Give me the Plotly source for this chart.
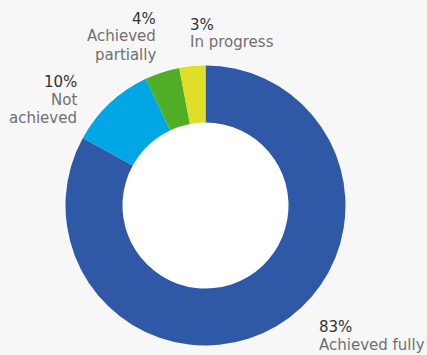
import plotly.graph_objects as go

labels = ["Achieved fully", "Not achieved", "Achieved partially", "In progress"]
values = [83, 10, 4, 3]
colors = ["#2F59A6", "#00A7E4", "#51AE27", "#DFDF27"]
label_lines = [["Achieved fully"], ["Not", "achieved"], ["Achieved", "partially"], ["In progress"]]

W, H = 427, 355
cx, cy, R = 205.5, 205.5, 140
hole = 0.593

fig = go.Figure(go.Pie(
    labels=labels, values=values, sort=False, direction="clockwise", rotation=0,
    hole=hole, marker=dict(colors=colors, line=dict(width=0)),
    textinfo="none", hoverinfo="label+percent", showlegend=False,
    domain=dict(x=[(cx - R) / W, (cx + R) / W], y=[(H - cy - R) / H, (H - cy + R) / H]),
))

ri = R * hole
fig.add_shape(type="circle", xref="paper", yref="paper", layer="below",
              x0=(cx - ri) / W, x1=(cx + ri) / W,
              y0=(H - cy - ri) / H, y1=(H - cy + ri) / H,
              fillcolor="white", line=dict(width=0))

# label placement: (x_px, first baseline px, anchor)
placements = [(318, 332, "left"), (78, 87, "right"), (157, 24, "right"), (189, 30, "left")]
step = 18
for lines, v, (x, yb, anc) in zip(label_lines, values, placements):
    texts = [(f"{v}%", "#333333")] + [(l, "#707070") for l in lines]
    for i, (t, c) in enumerate(texts):
        y = yb + i * step - 5.5
        fig.add_annotation(
            xref="paper", yref="paper", x=x / W, y=1 - y / H,
            xanchor=anc, yanchor="middle", showarrow=False, borderpad=0,
            text=t, font=dict(family="DejaVu Sans", size=15, color=c),
        )

fig.update_layout(width=W, height=H, margin=dict(l=0, r=0, t=0, b=0),
                  paper_bgcolor="#F7F7F7", plot_bgcolor="#F7F7F7")
fig.write_html("out.html")
